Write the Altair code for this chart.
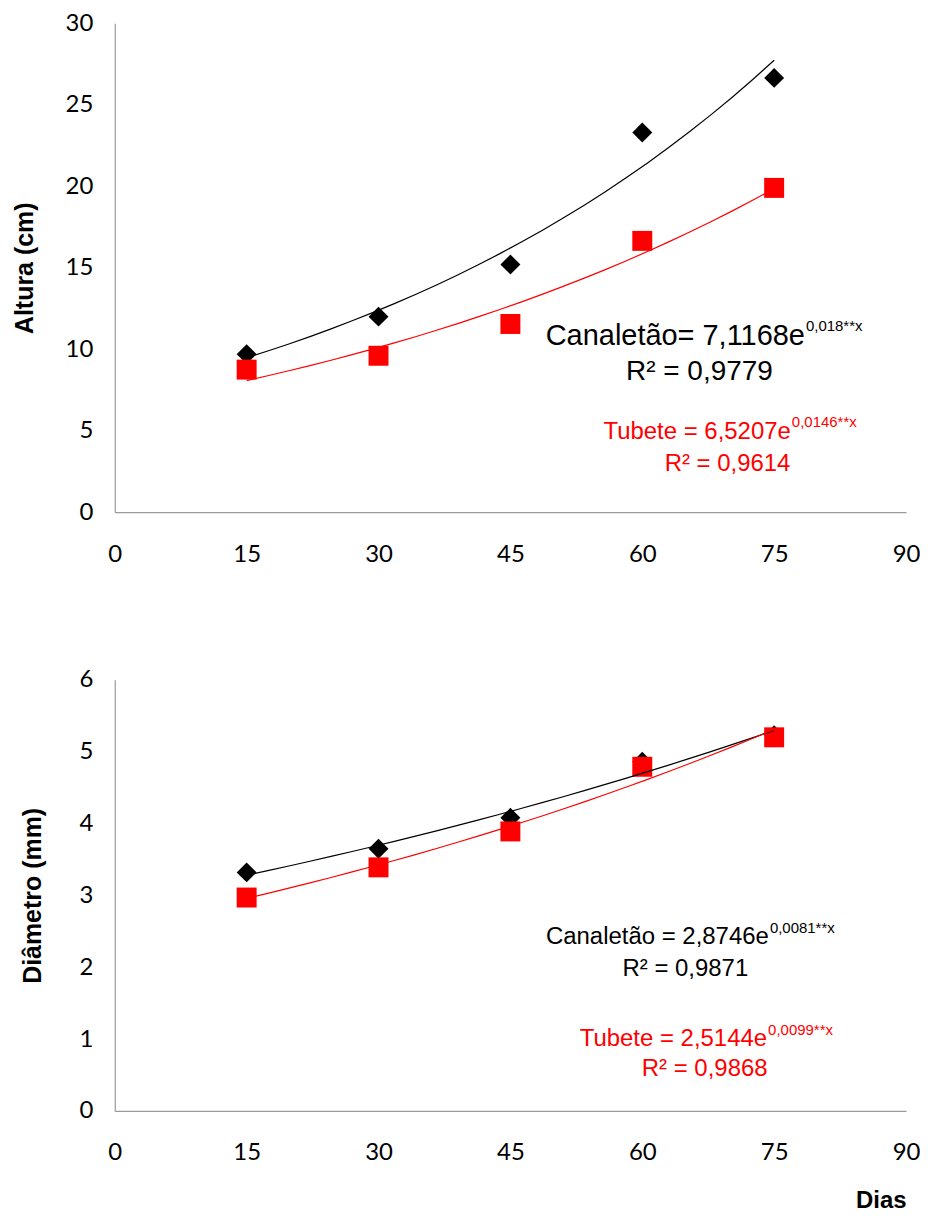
import altair as alt
import pandas as pd

# ---- data ----
dias = [15, 30, 45, 60, 75]
series = ["Canaletão", "Tubete"]
altura_canaletao = [9.7, 12.0, 15.2, 23.3, 26.65]
altura_tubete = [8.75, 9.6, 11.55, 16.65, 19.9]
diam_canaletao = [3.32, 3.65, 4.08, 4.86, 5.23]
diam_tubete = [2.97, 3.39, 3.89, 4.79, 5.20]

x_ticks = [0, 15, 30, 45, 60, 75, 90]
altura_ticks = [0, 5, 10, 15, 20, 25, 30]
diam_ticks = [0, 1, 2, 3, 4, 5, 6]

series_colors = ["#000000", "#ff0000"]
series_shapes = ["diamond", "square"]

# annotations: (text, dias, valor)
top_eq = [("Canaletão= 7,1168e", 78.5, 10.26), ("Tubete = 6,5207e", 76.9, 4.49)]
top_sup = [("0,018**x", 78.5, 11.11), ("0,0146**x", 76.9, 5.22)]
top_r2 = [("R² = 0,9779", 66.5, 8.14), ("R² = 0,9614", 69.7, 2.55)]
top_eq_sizes = [29, 24]
top_r2_sizes = [28, 24]

bot_eq = [("Canaletão = 2,8746e", 74.4, 2.32), ("Tubete = 2,5144e", 74.2, 0.90)]
bot_sup = [("0,0081**x", 74.4, 2.47), ("0,0099**x", 74.2, 1.056)]
bot_r2 = [("R² = 0,9871", 64.9, 1.875), ("R² = 0,9868", 67.1, 0.486)]
bot_eq_sizes = [24, 24]
bot_r2_sizes = [24, 24]


def make_df(a, b):
    rows = []
    for d, v in zip(dias, a):
        rows.append({"dias": d, "valor": v, "serie": series[0]})
    for d, v in zip(dias, b):
        rows.append({"dias": d, "valor": v, "serie": series[1]})
    return pd.DataFrame(rows)


LABEL_FONT = "Lato"
TEXT_FONT = "Liberation Sans"
AXIS_GRAY = "#9a9a9a"
WIDTH = 793


def panel(df, yticks, ytitle, height, title_x, eq, sup, r2, eq_sizes, r2_sizes, xtitle):
    x_axis_kwargs = dict(
        values=x_ticks, grid=False, ticks=False, tickSize=0,
        domainColor=AXIS_GRAY, domainWidth=1.2,
        labelFont=LABEL_FONT, labelFontSize=24, labelColor="#000000",
        labelPadding=30, labelFlush=False,
    )
    if xtitle:
        x_axis = alt.Axis(
            title=xtitle, titleFont=TEXT_FONT, titleFontSize=24, titleFontWeight="bold",
            titleColor="#000000", titleX=WIDTH, titleY=97, titleAlign="right",
            titleBaseline="alphabetic", **x_axis_kwargs)
    else:
        x_axis = alt.Axis(title=None, **x_axis_kwargs)
    y_axis = alt.Axis(
        values=yticks, grid=False, ticks=False, tickSize=0,
        domainColor=AXIS_GRAY, domainWidth=1.2,
        labelFont=LABEL_FONT, labelFontSize=24, labelColor="#000000",
        labelPadding=22, labelFlush=False,
        title=ytitle, titleFont=TEXT_FONT, titleFontSize=25, titleFontWeight="bold",
        titleColor="#000000", titleAngle=270, titleX=title_x, titleY=height / 2,
        titleAlign="center", titleBaseline="alphabetic",
    )
    xenc = alt.X("dias:Q", scale=alt.Scale(domain=[0, 90], nice=False, zero=False), axis=x_axis)
    yenc = alt.Y("valor:Q", scale=alt.Scale(domain=[yticks[0], yticks[-1]], nice=False), axis=y_axis)
    color = alt.Color("serie:N", scale=alt.Scale(domain=series, range=series_colors), legend=None)
    shape = alt.Shape("serie:N", scale=alt.Scale(domain=series, range=series_shapes), legend=None)

    base = alt.Chart(df)
    pts = base.mark_point(filled=True, opacity=1, size=400).encode(
        x=xenc, y=yenc, color=color, shape=shape)
    lines = base.transform_regression(
        "dias", "valor", groupby=["serie"], method="exp"
    ).mark_line(strokeWidth=1.2).encode(x=xenc, y=yenc, color=color)

    layers = [pts, lines]
    for i, col in enumerate(series_colors):
        for items, align, fs in ((eq, "right", eq_sizes[i]), (sup, "left", 15), (r2, "center", r2_sizes[i])):
            t, xv, yv = items[i]
            d = pd.DataFrame([{"dias": xv, "valor": yv, "txt": t}])
            layers.append(
                alt.Chart(d).mark_text(
                    align=align, baseline="alphabetic", font=TEXT_FONT,
                    fontSize=fs, color=col, dx=1 if align == "left" else 0,
                ).encode(x=xenc, y=yenc, text="txt:N")
            )
    return alt.layer(*layers).properties(width=WIDTH, height=height)


top = panel(make_df(altura_canaletao, altura_tubete), altura_ticks, "Altura (cm)", 490,
            -82, top_eq, top_sup, top_r2, top_eq_sizes, top_r2_sizes, None)
bottom = panel(make_df(diam_canaletao, diam_tubete), diam_ticks, "Diâmetro (mm)", 432,
               -74, bot_eq, bot_sup, bot_r2, bot_eq_sizes, bot_r2_sizes, "Dias")

chart = alt.vconcat(top, bottom, spacing=168, bounds="flush").configure_view(
    stroke=None
).properties(padding={"left": 5, "top": 2, "right": 0, "bottom": 0})

chart.save("out.html", embed_options={"renderer": "svg", "actions": False})
